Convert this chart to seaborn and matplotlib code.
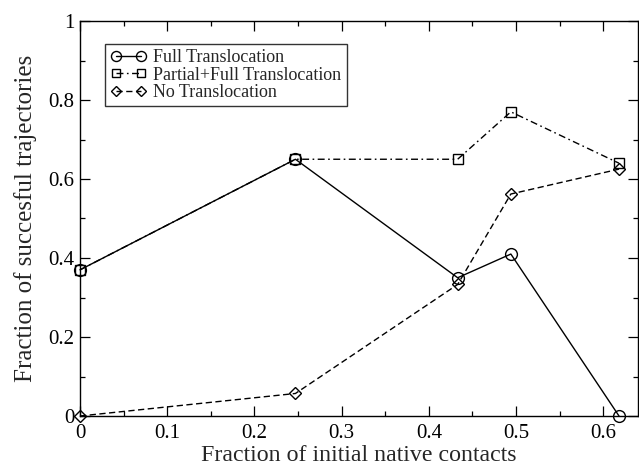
import matplotlib
matplotlib.use("Agg")
import matplotlib.pyplot as plt
import seaborn as sns
import pandas as pd
from matplotlib.ticker import MultipleLocator, FixedLocator

# Fraction of initial native contacts for each run set
native_contacts = [0.0, 0.247, 0.433, 0.494, 0.618]

# Fraction of successful trajectories per outcome
full_translocation = [0.37, 0.65, 0.35, 0.41, 0.0]
partial_full_translocation = [0.37, 0.65, 0.65, 0.77, 0.64]
no_translocation = [0.0, 0.057, 0.333, 0.562, 0.625]

series_names = ["Full Translocation", "Partial+Full Translocation", "No Translocation"]
x_ticks = [0, 0.1, 0.2, 0.3, 0.4, 0.5, 0.6]
x_tick_labels = ["0", "0.1", "0.2", "0.3", "0.4", "0.5", "0.6"]
y_ticks = [0, 0.2, 0.4, 0.6, 0.8, 1.0]
y_tick_labels = ["0", "0.2", "0.4", "0.6", "0.8", "1"]

sns.set_theme(style="ticks")
plt.rcParams["font.family"] = ["Liberation Serif", "DejaVu Serif"]

frames = []
for name, vals in zip(series_names,
                      [full_translocation, partial_full_translocation, no_translocation]):
    frames.append(pd.DataFrame({"x": native_contacts, "y": vals, "series": name}))
df = pd.concat(frames, ignore_index=True)

fig = plt.figure(figsize=(6.39, 4.72), dpi=100)
ax = fig.add_axes([80 / 639, 1 - 416 / 472, 558.2 / 639, 395 / 472])

styles = {
    "No Translocation": dict(marker="D", markersize=6.0, linestyle=(0, (4.5, 2.5)), zorder=2),
    "Partial+Full Translocation": dict(marker="s", markersize=7.5,
                                       linestyle=(0, (5, 2.5, 1.2, 2.5)), zorder=3),
    "Full Translocation": dict(marker="o", markersize=8.5, linestyle="-", zorder=4),
}

handles = {}
for name in ["No Translocation", "Partial+Full Translocation", "Full Translocation"]:
    sub = df[df["series"] == name]
    st = styles[name]
    sns.lineplot(data=sub, x="x", y="y", ax=ax, color="black", linewidth=1.0,
                 marker=st["marker"], markersize=st["markersize"],
                 markerfacecolor="none", markeredgecolor="black", markeredgewidth=1.0,
                 linestyle=st["linestyle"], zorder=st["zorder"], label=name,
                 sort=False, legend=False, clip_on=False)
    handles[name] = ax.lines[-1]

ax.set_xlim(0, 0.64)
ax.set_ylim(0, 1)
ax.xaxis.set_major_locator(FixedLocator(x_ticks))
ax.set_xticklabels(x_tick_labels)
ax.xaxis.set_minor_locator(MultipleLocator(0.05))
ax.yaxis.set_major_locator(FixedLocator(y_ticks))
ax.set_yticklabels(y_tick_labels)
ax.yaxis.set_minor_locator(MultipleLocator(0.1))

ax.tick_params(which="both", direction="in", top=True, right=True, colors="black",
               labelsize=15, width=0.9)
ax.tick_params(which="major", length=7)
ax.tick_params(which="minor", length=3.5)
ax.tick_params(axis="x", which="major", pad=5.5)
ax.tick_params(axis="y", which="major", pad=4)
for sp in ax.spines.values():
    sp.set_linewidth(1.0)
    sp.set_color("black")

ax.set_xlabel("Fraction of initial native contacts", fontsize=17.2, labelpad=2)
ax.set_ylabel("Fraction of succesful trajectories", fontsize=18, labelpad=8)

leg = ax.legend([handles[n] for n in series_names], series_names,
                loc="upper left", bbox_to_anchor=(0.045, 0.942), numpoints=2,
                fontsize=13, frameon=True, fancybox=False, edgecolor="black",
                handlelength=2.0, handletextpad=0.35, labelspacing=0.02,
                borderpad=0.3, borderaxespad=0, markerscale=0.85)
leg.get_frame().set_linewidth(1.0)
ax.set_facecolor("white")
fig.patch.set_facecolor("white")

fig.savefig("out.png", dpi=100, facecolor="white")
